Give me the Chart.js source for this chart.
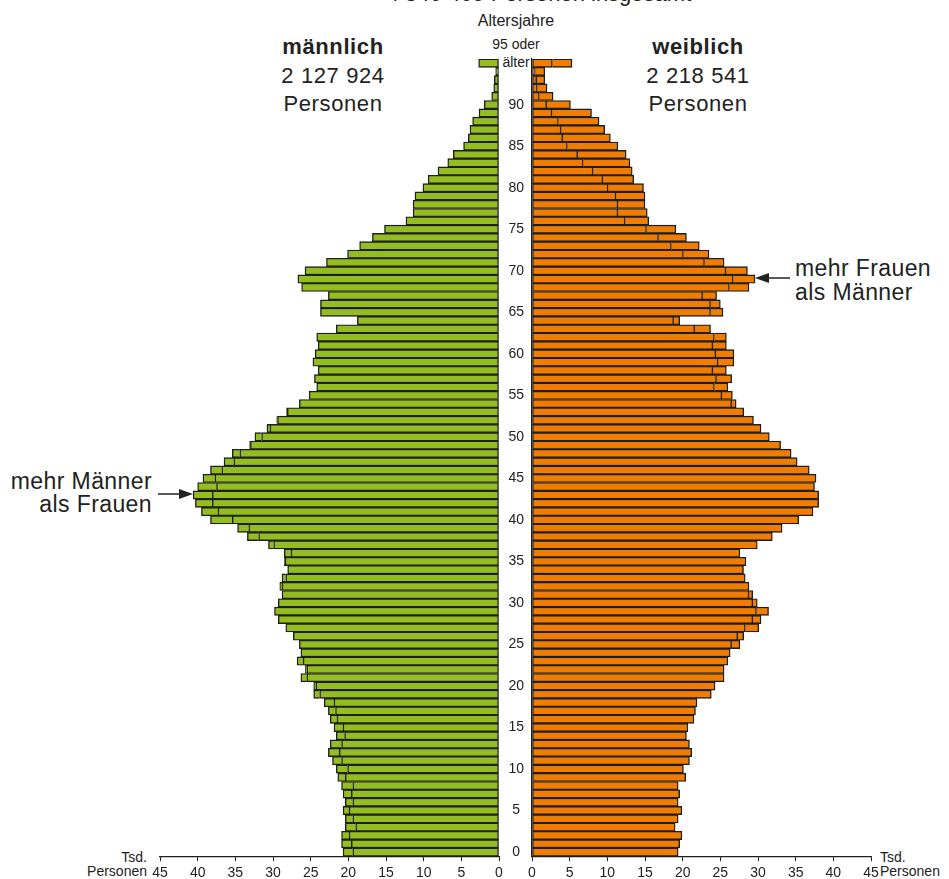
<!DOCTYPE html>
<html lang="de">
<head>
<meta charset="utf-8">
<script src="https://cdn.jsdelivr.net/npm/chart.js@4.4.1/dist/chart.umd.min.js"></script>
<style>
body { margin:0; width:949px; height:879px; overflow:hidden; background:#fff; font-family:"Liberation Sans", Arial, sans-serif; color:#222; position:relative; }
.t { position:absolute; white-space:nowrap; }
canvas { position:absolute; top:0; z-index:1; }
#links { left:0; }
#rechts { left:499px; }
</style>
</head>
<body>
<div class="t" style="left:539px; top:-17px; font-size:22px; line-height:22px; transform:translateX(-50%);">4 346 465 Personen insgesamt</div>
<div class="t" style="left:516px; top:13px; font-size:16px; line-height:16px; transform:translateX(-50%);">Altersjahre</div>
<div class="t" style="left:516px; top:37px; font-size:14px; line-height:14px; transform:translateX(-50%);">95 oder</div>
<div class="t" style="left:516px; top:55px; font-size:14px; line-height:14px; transform:translateX(-50%); z-index:0;">älter</div>

<div class="t" style="left:333px; top:33px; font-size:22px; line-height:28.5px; letter-spacing:0.6px; text-align:center; transform:translateX(-50%);"><b>männlich</b><br>2 127 924<br>Personen</div>
<div class="t" style="left:698px; top:33px; font-size:22px; line-height:28.5px; letter-spacing:0.6px; text-align:center; transform:translateX(-50%);"><b>weiblich</b><br>2 218 541<br>Personen</div>

<div class="t" style="left:795px; top:256px; font-size:23px; line-height:24px; letter-spacing:0.4px;">mehr Frauen<br>als Männer</div>
<div class="t" style="right:797px; top:470px; font-size:23px; line-height:23px; letter-spacing:0.4px; text-align:right;">mehr Männer<br>als Frauen</div>

<div class="t" style="right:802px; top:850px; font-size:14px; line-height:14px; text-align:right;">Tsd.<br>Personen</div>
<div class="t" style="left:880px; top:850px; font-size:14px; line-height:14px;">Tsd.<br>Personen</div>

<svg width="949" height="879" style="position:absolute; left:0; top:0; z-index:2;">
  <line x1="790" y1="278" x2="766" y2="278" stroke="#222" stroke-width="1.5"/>
  <polygon points="755,278 769,273 769,283" fill="#222"/>
  <line x1="158" y1="494" x2="182" y2="494" stroke="#222" stroke-width="1.5"/>
  <polygon points="193,494 179,489 179,499" fill="#222"/>
</svg>

<canvas id="links" width="520" height="886"></canvas>
<canvas id="rechts" width="450" height="886"></canvas>

<script>
// Altersjahre 0 bis 95 (95 = 95 oder älter)
const alter = ['0','1','2','3','4','5','6','7','8','9',
  '10','11','12','13','14','15','16','17','18','19',
  '20','21','22','23','24','25','26','27','28','29',
  '30','31','32','33','34','35','36','37','38','39',
  '40','41','42','43','44','45','46','47','48','49',
  '50','51','52','53','54','55','56','57','58','59',
  '60','61','62','63','64','65','66','67','68','69',
  '70','71','72','73','74','75','76','77','78','79',
  '80','81','82','83','84','85','86','87','88','89',
  '90','91','92','93','94','95'];

// Tsd. Personen
const maenner = [20.7, 20.9, 20.9, 20.4, 20.4, 20.7, 20.4, 20.7, 20.9, 21.4,
  21.6, 22.1, 22.65, 22.4, 21.6, 21.9, 22.4, 22.65, 23.2, 24.6,
  24.6, 26.3, 25.7, 26.8, 26.3, 26.5, 27.3, 28.3, 29.3, 29.8,
  29.3, 28.8, 29.1, 28.8, 28.05, 28.5, 28.5, 30.6, 33.4, 34.7,
  38.3, 39.5, 40.3, 40.6, 40.0, 39.3, 38.3, 36.5, 35.4, 33.1,
  32.4, 30.8, 29.5, 28.2, 26.5, 25.2, 24.2, 24.5, 24.0, 24.7,
  24.4, 24.0, 24.2, 21.6, 18.8, 23.7, 23.7, 22.65, 26.2, 26.7,
  25.75, 22.9, 20.1, 18.5, 16.8, 15.2, 12.35, 11.4, 11.4, 11.15,
  10.1, 9.4, 8.1, 6.8, 6.06, 4.7, 4.07, 3.85, 3.5, 2.65,
  1.95, 0.97, 0.7, 0.62, 0.44, 2.7];

const frauen = [19.4, 19.6, 19.9, 19.0, 19.4, 19.9, 19.4, 19.6, 19.4, 20.4,
  20.1, 20.9, 21.2, 20.9, 20.5, 20.7, 21.5, 21.7, 21.9, 23.8,
  24.3, 25.5, 25.5, 26.0, 26.3, 27.6, 28.1, 30.1, 30.4, 31.4,
  29.9, 29.3, 28.8, 28.3, 28.1, 28.4, 27.6, 29.9, 31.9, 33.2,
  35.4, 37.3, 38.05, 38.05, 37.5, 37.7, 36.8, 35.2, 34.4, 33.0,
  31.5, 30.4, 29.4, 28.1, 27.1, 26.6, 26.0, 26.5, 25.8, 26.8,
  26.8, 25.8, 25.8, 23.7, 19.6, 25.35, 25.0, 24.5, 28.8, 29.6,
  28.6, 25.5, 23.5, 22.2, 20.5, 19.1, 15.5, 15.3, 15.0, 15.0,
  14.8, 13.5, 13.3, 13.0, 12.5, 11.4, 10.4, 9.65, 8.9, 7.9,
  5.1, 2.8, 2.0, 1.7, 1.7, 5.3];

const gruen = '#94be1f';
const orange = '#f07d00';
const rand = '#1e1e1e';
const schrift = { family: '"Liberation Sans", Arial, sans-serif', size: 14 };

// gemeinsamer Teil + Überschuss gegenüber dem anderen Geschlecht
function datensaetze(eigen, ander, farbe) {
  const basis = eigen.map((v, i) => Math.min(v, ander[i]));
  const ueber = eigen.map((v, i) => v > ander[i] ? v - ander[i] : null);
  const stil = { backgroundColor: farbe, borderColor: rand, borderWidth: 1.4,
    categoryPercentage: 1, barPercentage: 1 };
  return [
    Object.assign({ data: basis, borderSkipped: false }, stil),
    Object.assign({ data: ueber, borderSkipped: 'start' }, stil)
  ];
}

function xAchse(umgekehrt) {
  return {
    stacked: true, reverse: umgekehrt, min: 0, max: 45,
    ticks: { stepSize: 5, padding: 4, color: '#222', font: schrift, maxRotation: 0 },
    grid: { drawOnChartArea: false, drawTicks: true, tickLength: 5, color: rand },
    border: { display: true, color: rand, width: 1.2 }
  };
}

const grundOptionen = {
  indexAxis: 'y',
  responsive: false,
  animation: false,
  plugins: { legend: { display: false }, tooltip: { enabled: false } }
};

new Chart(document.getElementById('links'), {
  type: 'bar',
  data: { labels: alter, datasets: datensaetze(maenner, frauen, gruen) },
  options: Object.assign({}, grundOptionen, {
    layout: { padding: { left: 160, right: 21, top: 59, bottom: 0 } },
    scales: {
      x: xAchse(true),
      y: { stacked: true, reverse: true, display: false }
    }
  })
});

new Chart(document.getElementById('rechts'), {
  type: 'bar',
  data: { labels: alter, datasets: datensaetze(frauen, maenner, orange) },
  options: Object.assign({}, grundOptionen, {
    layout: { padding: { left: 0, right: 78, top: 59, bottom: 0 } },
    scales: {
      x: xAchse(false),
      y: {
        stacked: true, reverse: true, position: 'left',
        afterFit: (s) => { s.width = 33; },
        grid: { drawOnChartArea: false, drawTicks: false },
        border: { display: true, color: rand, width: 1.2 },
        ticks: {
          autoSkip: false, crossAlign: 'center', padding: 8, color: '#222', font: schrift,
          callback: function (wert) {
            const a = Number(this.getLabelForValue(wert));
            return (a % 5 === 0 && a <= 90) ? String(a) : '';
          }
        }
      }
    }
  })
});
</script>
</body>
</html>
